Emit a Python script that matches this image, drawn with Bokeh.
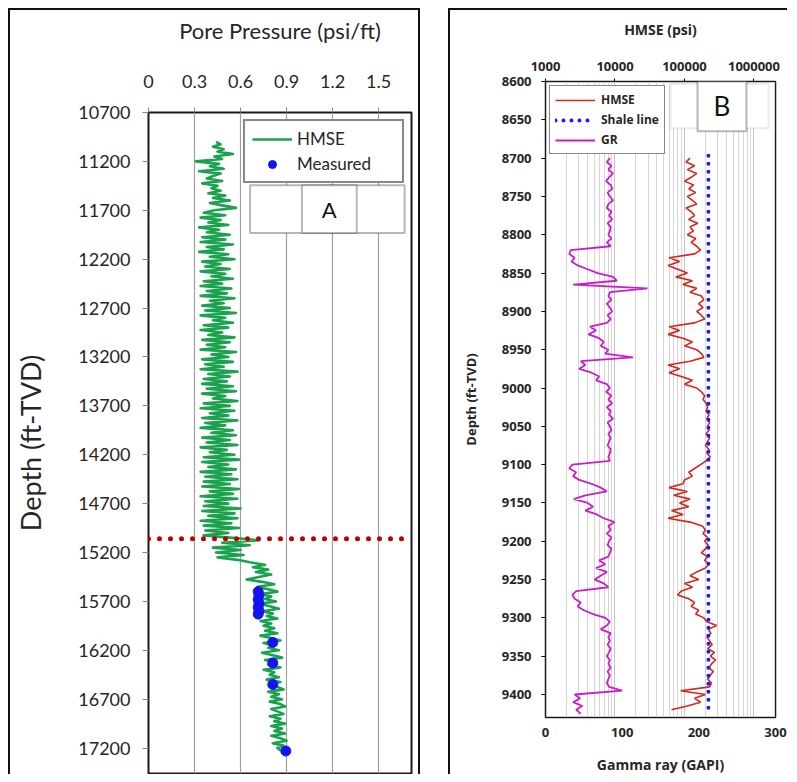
import numpy as np
from bokeh.plotting import figure
from bokeh.models import (Range1d, LinearAxis, LinearScale, FixedTicker, NumeralTickFormatter,
                          Span, BoxAnnotation, Label)
from bokeh.embed import file_html
from bokeh.resources import INLINE

# ---------------- Panel A data ----------------
a_depth_start = 11000
a_depth_step = 25
a_hmse_pp = [
    0.44, 0.47, 0.42, 0.49, 0.45, 0.55, 0.43, 0.48, 0.31, 0.46, 0.40, 0.49, 0.33, 0.47, 0.42, 0.38, 0.48, 0.35, 0.45, 0.41,
    0.47, 0.39, 0.50, 0.42, 0.53, 0.40, 0.48, 0.57, 0.43, 0.36, 0.50, 0.34, 0.47, 0.39, 0.52, 0.33, 0.46, 0.38, 0.53, 0.35,
    0.50, 0.34, 0.55, 0.38, 0.49, 0.33, 0.52, 0.40, 0.56, 0.35, 0.47, 0.37, 0.53, 0.34, 0.50, 0.41, 0.55, 0.36, 0.48, 0.34,
    0.54, 0.38, 0.51, 0.34, 0.56, 0.40, 0.49, 0.35, 0.53, 0.37, 0.57, 0.34, 0.50, 0.42, 0.55, 0.36, 0.52, 0.34, 0.48, 0.39,
    0.56, 0.35, 0.53, 0.38, 0.50, 0.34, 0.57, 0.41, 0.52, 0.35, 0.55, 0.37, 0.49, 0.34, 0.58, 0.39, 0.53, 0.36, 0.51, 0.35,
    0.55, 0.38, 0.57, 0.35, 0.50, 0.42, 0.58, 0.36, 0.53, 0.34, 0.56, 0.40, 0.52, 0.35, 0.58, 0.37, 0.50, 0.34, 0.55, 0.41,
    0.57, 0.35, 0.53, 0.38, 0.58, 0.34, 0.51, 0.40, 0.56, 0.36, 0.59, 0.35, 0.52, 0.39, 0.57, 0.34, 0.54, 0.37, 0.58, 0.36,
    0.53, 0.35, 0.59, 0.40, 0.55, 0.34, 0.58, 0.37, 0.52, 0.36, 0.60, 0.35, 0.56, 0.39, 0.58, 0.34, 0.54, 0.36, 0.59, 0.37,
    0.52, 0.36, 0.55, 0.72, 0.48, 0.66, 0.42, 0.60, 0.44, 0.62, 0.45, 0.58, 0.66, 0.76, 0.68, 0.78, 0.70, 0.80, 0.72, 0.64,
    0.74, 0.82, 0.71, 0.78, 0.84, 0.73, 0.80, 0.76, 0.83, 0.72, 0.79, 0.85, 0.74, 0.81, 0.77, 0.84, 0.73, 0.80, 0.75, 0.82,
    0.76, 0.84, 0.73, 0.80, 0.86, 0.75, 0.82, 0.78, 0.85, 0.74, 0.81, 0.87, 0.76, 0.83, 0.78, 0.86, 0.75, 0.82, 0.79, 0.85,
    0.77, 0.86, 0.79, 0.84, 0.88, 0.78, 0.85, 0.80, 0.87, 0.79, 0.86, 0.89, 0.80, 0.84, 0.88, 0.79, 0.86, 0.82, 0.89, 0.80,
    0.87, 0.82, 0.89, 0.80, 0.86, 0.90, 0.81, 0.88, 0.84, 0.86,
]
a_depth = [a_depth_start + a_depth_step * i for i in range(len(a_hmse_pp))]

a_meas_depth = [15600, 15640, 15680, 15720, 15760, 15800, 15830, 16120, 16330, 16550, 17230]
a_meas_pp = [0.715, 0.72, 0.715, 0.72, 0.715, 0.72, 0.715, 0.81, 0.81, 0.81, 0.895]
a_transition_depth = 15060
a_xticks = [0, 0.3, 0.6, 0.9, 1.2, 1.5]
a_yticks = [10700, 11200, 11700, 12200, 12700, 13200, 13700, 14200, 14700, 15200, 15700, 16200, 16700, 17200]

# ---------------- Panel B data ----------------
b_depth_start = 8700
b_depth_step = 5
b_gr = [
    84, 80, 86, 82, 88, 83, 79, 85, 87, 81,
    84, 88, 82, 80, 86, 83, 87, 81, 85, 84,
    82, 86, 80, 85, 33, 31, 38, 34, 42, 55,
    68, 88, 93, 36, 133, 84, 82, 86, 80, 84,
    87, 81, 85, 80, 58, 66, 56, 70, 76, 72,
    82, 78, 114, 46, 52, 44, 60, 70, 66, 80,
    84, 79, 86, 82, 87, 80, 85, 83, 88, 81,
    84, 86, 82, 85, 83, 81, 85, 84, 82, 84,
    35, 31, 40, 36, 44, 60, 72, 80, 52, 37,
    55, 62, 52, 67, 76, 90, 82, 85, 80, 86,
    83, 81, 86, 84, 82, 70, 78, 66, 80, 72,
    64, 76, 82, 40, 35, 38, 46, 42, 50, 62,
    78, 84, 80, 72, 85, 82, 84, 81, 85, 83,
    80, 84, 82, 85, 81, 84, 82, 80, 83, 100,
    38, 45, 36, 48, 40, 46,
]
b_gr_depth = [b_depth_start + b_depth_step * i for i in range(len(b_gr))]

b_hmse = [
    120000, 105000, 140000, 110000, 150000, 125000, 100000, 135000, 115000, 145000,
    110000, 130000, 150000, 105000, 125000, 140000, 115000, 155000, 120000, 135000,
    110000, 145000, 125000, 150000, 170000, 140000, 60000, 85000, 58000, 80000,
    110000, 75000, 130000, 95000, 150000, 120000, 175000, 190000, 160000, 185000,
    150000, 175000, 195000, 140000, 60000, 85000, 58000, 95000, 130000, 100000,
    150000, 175000, 190000, 120000, 58000, 85000, 60000, 90000, 130000, 100000,
    150000, 175000, 195000, 185000, 205000, 215000, 205000, 225000, 210000, 230000,
    215000, 225000, 205000, 230000, 215000, 200000, 225000, 210000, 235000, 205000,
    170000, 140000, 115000, 130000, 100000, 95000, 60000, 110000, 70000, 120000,
    85000, 115000, 65000, 95000, 58000, 120000, 180000, 200000, 185000, 215000,
    195000, 220000, 200000, 175000, 215000, 195000, 225000, 200000, 150000, 120000,
    160000, 100000, 130000, 90000, 80000, 115000, 140000, 125000, 160000, 145000,
    190000, 210000, 290000, 220000, 240000, 210000, 230000, 250000, 215000, 270000,
    235000, 280000, 245000, 225000, 260000, 235000, 215000, 245000, 230000, 88000,
    200000, 140000, 170000, 110000, 65000,
]
b_hmse_depth = [b_depth_start + b_depth_step * i for i in range(len(b_hmse))]

b_shale_depth = [8697, 9425]
b_shale_hmse = [221000, 221000]
b_top_ticks = [1000, 10000, 100000, 1000000]
b_top_minor = [m * d for d in (1000, 10000, 100000, 1000000) for m in range(2, 10)]
b_gr_ticks = [0, 100, 200, 300]
b_yticks = list(range(8600, 9401, 50))

A_FONT = "Lato"
B_FONT = "Open Sans"
TXT = "#262626"

# ================= Panel A =================
pA = figure(width=412, height=766, x_range=Range1d(0, 1.714), y_range=Range1d(17460, 10700),
            x_axis_location="above", title=None, output_backend="svg", toolbar_location=None,
            min_border_left=138, min_border_right=11, min_border_top=102, min_border_bottom=3)
pA.styles = {"position": "absolute", "left": "8px", "top": "8px",
             "border-top": "2px solid #111", "border-left": "2px solid #111",
             "border-right": "2px solid #111"}
pA.outline_line_color = "#1a1a1a"
pA.outline_line_width = 2

xa = pA.xaxis[0]
xa.ticker = FixedTicker(ticks=a_xticks)
xa.formatter = NumeralTickFormatter(format="0.[0]")
xa.axis_label = "Pore Pressure (psi/ft)"
xa.axis_label_text_font = A_FONT
xa.axis_label_text_font_style = "normal"
xa.axis_label_text_font_size = "22px"
xa.axis_label_text_color = TXT
xa.axis_label_standoff = 28
xa.major_label_text_font = A_FONT
xa.major_label_text_font_size = "18px"
xa.major_label_text_color = TXT
xa.major_label_standoff = 20
xa.major_tick_out = 5
xa.major_tick_in = 0
xa.minor_tick_line_color = None
xa.axis_line_color = "#1a1a1a"
xa.major_tick_line_color = "#888888"

ya = pA.yaxis[0]
ya.ticker = FixedTicker(ticks=a_yticks)
ya.axis_label = "Depth (ft-TVD)"
ya.axis_label_text_font = A_FONT
ya.axis_label_text_font_style = "normal"
ya.axis_label_text_font_size = "27px"
ya.axis_label_text_color = TXT
ya.axis_label_standoff = 28
ya.major_label_text_font = A_FONT
ya.major_label_text_font_size = "18px"
ya.major_label_text_color = TXT
ya.major_label_standoff = 12
ya.major_tick_out = 6
ya.major_tick_in = 0
ya.minor_tick_line_color = None
ya.axis_line_color = "#1a1a1a"
ya.major_tick_line_color = "#888888"

pA.xgrid.ticker = FixedTicker(ticks=a_xticks)
pA.xgrid.grid_line_color = "#a0a0a0"
pA.xgrid.grid_line_width = 1.2
pA.ygrid.grid_line_color = None

pA.line(x=a_hmse_pp, y=a_depth, line_color="#1ca24f", line_width=2.6, line_join="round",
        legend_label="HMSE")
pA.scatter(x=a_meas_pp, y=a_meas_depth, size=10, fill_color="#1414f0", line_color="#1414f0",
           legend_label="Measured")

pA.add_layout(Span(location=a_transition_depth, dimension="width", line_color="#c00000",
                   line_width=5, line_dash="0 11", line_cap="round"))

pA.add_layout(BoxAnnotation(left=0.662, right=1.669, top=11445, bottom=11932,
                            fill_color="white", fill_alpha=1, line_color="#111", line_width=2))
pA.add_layout(BoxAnnotation(left=1.0, right=1.357, top=11445, bottom=11932,
                            fill_color="white", fill_alpha=1, line_color="#111", line_width=2))
pA.add_layout(Label(x=1.178, y=11690, text="A", text_align="center", text_baseline="middle",
                    text_font=A_FONT, text_font_size="22px", text_color="#111"))

lgA = pA.legend[0]
lgA.location = "top_right"
lgA.margin = 7
lgA.padding = 7
lgA.spacing = 4
lgA.border_line_color = "#111"
lgA.border_line_width = 2
lgA.background_fill_alpha = 1
lgA.label_text_font = A_FONT
lgA.label_text_font_size = "17px"
lgA.label_text_color = TXT
lgA.glyph_width = 40
lgA.glyph_height = 20
lgA.label_height = 20
lgA.label_width = 98
lgA.label_standoff = 5

# ================= Panel B =================
pB = figure(width=339, height=766, x_axis_type="log", x_range=Range1d(1000, 2.04e6),
            y_range=Range1d(9430, 8600), x_axis_location="above", title=None,
            output_backend="svg", toolbar_location=None,
            min_border_left=95, min_border_right=14, min_border_top=71, min_border_bottom=59)
pB.styles = {"position": "absolute", "left": "448px", "top": "8px",
             "border-top": "2px solid #111", "border-left": "2px solid #111"}
pB.extra_x_ranges = {"gr": Range1d(0, 300)}
pB.extra_x_scales = {"gr": LinearScale()}
pB.outline_line_color = "#1a1a1a"
pB.outline_line_width = 1.5

top_ticker = FixedTicker(ticks=b_top_ticks, minor_ticks=b_top_minor)
xb = pB.xaxis[0]
xb.ticker = top_ticker
xb.formatter = NumeralTickFormatter(format="0")
xb.axis_label = "HMSE (psi)"
xb.axis_label_text_font = B_FONT
xb.axis_label_text_font_style = "bold"
xb.axis_label_text_font_size = "14px"
xb.axis_label_text_color = TXT
xb.axis_label_standoff = 20
xb.major_label_text_font = B_FONT
xb.major_label_text_font_style = "bold"
xb.major_label_text_font_size = "13px"
xb.major_label_text_color = TXT
xb.major_label_standoff = 7
xb.major_tick_out = 3
xb.major_tick_in = 0
xb.minor_tick_line_color = None
xb.axis_line_color = "#1a1a1a"

yb = pB.yaxis[0]
yb.ticker = FixedTicker(ticks=b_yticks)
yb.axis_label = "Depth (ft-TVD)"
yb.axis_label_text_font = B_FONT
yb.axis_label_text_font_style = "bold"
yb.axis_label_text_font_size = "13px"
yb.axis_label_text_color = TXT
yb.axis_label_standoff = 19
yb.major_label_text_font = B_FONT
yb.major_label_text_font_style = "bold"
yb.major_label_text_font_size = "13px"
yb.major_label_text_color = TXT
yb.major_label_standoff = 10
yb.major_tick_out = 4
yb.major_tick_in = 0
yb.minor_tick_line_color = None
yb.axis_line_color = "#1a1a1a"

pB.xgrid.ticker = top_ticker
pB.xgrid.grid_line_color = "#c4c4c4"
pB.xgrid.minor_grid_line_color = "#d6d6d6"
pB.ygrid.grid_line_color = None

gr_axis = LinearAxis(x_range_name="gr", ticker=FixedTicker(ticks=b_gr_ticks),
                     axis_label="Gamma ray (GAPI)")
gr_axis.axis_label_text_font = B_FONT
gr_axis.axis_label_text_font_style = "bold"
gr_axis.axis_label_text_font_size = "14px"
gr_axis.axis_label_text_color = TXT
gr_axis.axis_label_standoff = 15
gr_axis.major_label_text_font = B_FONT
gr_axis.major_label_text_font_style = "bold"
gr_axis.major_label_text_font_size = "13px"
gr_axis.major_label_text_color = TXT
gr_axis.major_label_standoff = 10
gr_axis.major_tick_out = 0
gr_axis.major_tick_in = 0
gr_axis.minor_tick_line_color = None
gr_axis.axis_line_color = "#1a1a1a"
pB.add_layout(gr_axis, "below")

pB.line(x=b_hmse, y=b_hmse_depth, line_color="#d2281c", line_width=1.6, legend_label="HMSE")
pB.line(x=b_shale_hmse, y=b_shale_depth, line_color="#1a1aff", line_width=4, line_dash="0 8",
        line_cap="round", legend_label="Shale line")
pB.line(x=b_gr, y=b_gr_depth, x_range_name="gr", line_color="#c81ec8", line_width=1.8,
        legend_label="GR")

pB.add_layout(BoxAnnotation(left=63000, right=1.62e6, top=8603, bottom=8661,
                            fill_color="white", fill_alpha=1, line_color="#bdbdbd", line_width=2))
pB.add_layout(BoxAnnotation(left=154000, right=780000, top=8600, bottom=8665,
                            fill_color="white", fill_alpha=1, line_color="#111", line_width=2))
pB.add_layout(Label(x=346000, y=8632, text="B", text_align="center", text_baseline="middle",
                    text_font=A_FONT, text_font_size="26px", text_color="#111"))

lgB = pB.legend[0]
lgB.location = "top_left"
lgB.margin = 4
lgB.padding = 5
lgB.spacing = 3
lgB.border_line_color = "#111"
lgB.border_line_width = 1.5
lgB.background_fill_alpha = 1
lgB.label_text_font = B_FONT
lgB.label_text_font_style = "bold"
lgB.label_text_font_size = "12px"
lgB.label_text_color = TXT
lgB.glyph_width = 40
lgB.glyph_height = 14
lgB.label_height = 14
lgB.label_standoff = 6

open("out.html", "w").write(file_html([pA, pB], INLINE))
